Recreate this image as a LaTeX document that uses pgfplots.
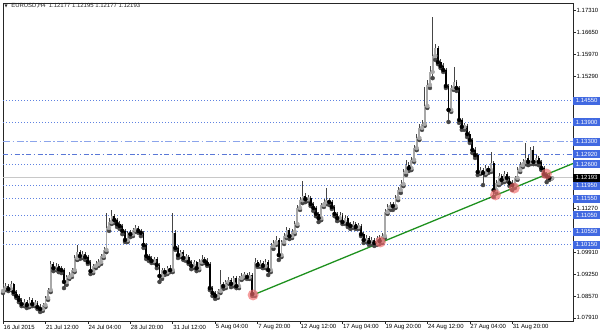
\documentclass[border=0pt]{standalone}
\usepackage{pgfplots}
\pgfplotsset{compat=1.18}
\usepackage{pgfplotstable}
\usepackage{fontspec}
\setmainfont{Liberation Sans}
\newfontfamily\dejavu{DejaVu Sans}
\newcommand\tickfont{\fontsize{6}{7}\selectfont}
\definecolor{mtblue}{RGB}{65,105,225}
\definecolor{lvl}{RGB}{95,130,225}
\definecolor{lvlA}{RGB}{140,165,235}
\definecolor{lvlB}{RGB}{90,120,215}
\definecolor{curline}{RGB}{200,200,200}
\definecolor{trend}{RGB}{30,145,30}
\definecolor{dotc}{RGB}{240,105,105}
\definecolor{bullc}{RGB}{168,168,168}
\definecolor{wick}{RGB}{70,70,70}
\pgfplotstableread{
k o h l c u
0 1.0873 1.0895 1.0867 1.0882 1
1 1.0882 1.0898 1.0876 1.0888 1
2 1.0888 1.0895 1.0873 1.0879 0
3 1.0879 1.0904 1.0876 1.0895 1
4 1.0895 1.0898 1.0864 1.0870 0
5 1.0870 1.0876 1.0852 1.0858 0
6 1.0858 1.0864 1.0839 1.0846 0
7 1.0846 1.0852 1.0827 1.0833 0
8 1.0833 1.0849 1.0827 1.0839 1
9 1.0839 1.0846 1.0821 1.0830 0
10 1.0830 1.0855 1.0824 1.0846 1
11 1.0846 1.0852 1.0827 1.0833 0
12 1.0833 1.0846 1.0827 1.0836 1
13 1.0836 1.0842 1.0818 1.0824 0
14 1.0824 1.0833 1.0809 1.0818 0
15 1.0818 1.0836 1.0812 1.0830 1
16 1.0830 1.0858 1.0824 1.0852 1
17 1.0852 1.0882 1.0846 1.0876 1
18 1.0876 1.0965 1.0870 1.0956 1
19 1.0956 1.0962 1.0934 1.0943 0
20 1.0943 1.0959 1.0937 1.0950 1
21 1.0950 1.0956 1.0931 1.0940 0
22 1.0940 1.0950 1.0928 1.0937 0
23 1.0937 1.0943 1.0882 1.0901 0
24 1.0901 1.0922 1.0892 1.0916 1
25 1.0916 1.0931 1.0910 1.0922 1
26 1.0922 1.0943 1.0916 1.0937 1
27 1.0937 1.0983 1.0931 1.0974 1
28 1.0974 1.1014 1.0968 1.0992 1
29 1.0992 1.0999 1.0971 1.0980 0
30 1.0980 1.0995 1.0974 1.0986 1
31 1.0986 1.0992 1.0968 1.0977 0
32 1.0977 1.0983 1.0956 1.0962 0
33 1.0962 1.0968 1.0925 1.0934 0
34 1.0934 1.0956 1.0928 1.0950 1
35 1.0950 1.0965 1.0943 1.0956 1
36 1.0956 1.0971 1.0950 1.0962 1
37 1.0962 1.0986 1.0956 1.0980 1
38 1.0980 1.1008 1.0974 1.0999 1
39 1.0999 1.1112 1.0992 1.1066 1
40 1.1066 1.1096 1.1057 1.1084 1
41 1.1084 1.1121 1.1078 1.1102 1
42 1.1102 1.1109 1.1081 1.1090 0
43 1.1090 1.1096 1.1069 1.1078 0
44 1.1078 1.1087 1.1063 1.1072 0
45 1.1072 1.1078 1.1047 1.1057 0
46 1.1057 1.1063 1.1023 1.1029 0
47 1.1029 1.1057 1.1023 1.1051 1
48 1.1051 1.1060 1.1038 1.1047 0
49 1.1047 1.1066 1.1041 1.1060 1
50 1.1060 1.1075 1.1054 1.1066 1
51 1.1066 1.1072 1.1051 1.1057 0
52 1.1057 1.1063 1.1041 1.1051 0
53 1.1051 1.1057 1.1005 1.1014 0
54 1.1014 1.1020 1.0971 1.0980 0
55 1.0980 1.0986 1.0965 1.0974 0
56 1.0974 1.0980 1.0959 1.0965 0
57 1.0965 1.0977 1.0959 1.0971 1
58 1.0971 1.0977 1.0943 1.0953 0
59 1.0953 1.0959 1.0901 1.0919 0
60 1.0919 1.0943 1.0910 1.0937 1
61 1.0937 1.0943 1.0922 1.0931 0
62 1.0931 1.0950 1.0925 1.0943 1
63 1.0943 1.0953 1.0931 1.0937 0
64 1.0937 1.1112 1.0931 1.1051 1
65 1.1051 1.1060 1.0999 1.1005 0
66 1.1005 1.1014 1.0974 1.0983 0
67 1.0983 1.0999 1.0977 1.0992 1
68 1.0992 1.0999 1.0968 1.0974 0
69 1.0974 1.0986 1.0965 1.0977 1
70 1.0977 1.0983 1.0956 1.0962 0
71 1.0962 1.0968 1.0940 1.0950 0
72 1.0950 1.0968 1.0943 1.0962 1
73 1.0962 1.0965 1.0934 1.0943 0
74 1.0943 1.0971 1.0937 1.0962 1
75 1.0962 1.0983 1.0956 1.0971 1
76 1.0971 1.0977 1.0959 1.0965 0
77 1.0965 1.0974 1.0950 1.0956 0
78 1.0956 1.0962 1.0876 1.0882 0
79 1.0882 1.0888 1.0858 1.0867 0
80 1.0867 1.0873 1.0849 1.0858 0
81 1.0858 1.0879 1.0852 1.0873 1
82 1.0873 1.0937 1.0867 1.0895 1
83 1.0895 1.0901 1.0879 1.0888 0
84 1.0888 1.0907 1.0882 1.0901 1
85 1.0901 1.0916 1.0895 1.0907 1
86 1.0907 1.0913 1.0885 1.0895 0
87 1.0895 1.0919 1.0888 1.0913 1
88 1.0913 1.0919 1.0882 1.0888 0
89 1.0888 1.0919 1.0882 1.0913 1
90 1.0913 1.0928 1.0907 1.0919 1
91 1.0919 1.0931 1.0913 1.0922 1
92 1.0922 1.0928 1.0910 1.0916 0
93 1.0916 1.0931 1.0910 1.0922 1
94 1.0922 1.0928 1.0858 1.0864 0
95 1.0864 1.0974 1.0858 1.0962 1
96 1.0962 1.0968 1.0947 1.0953 0
97 1.0953 1.0968 1.0947 1.0959 1
98 1.0959 1.0965 1.0943 1.0950 0
99 1.0950 1.0971 1.0943 1.0962 1
100 1.0962 1.0968 1.0922 1.0937 0
101 1.0937 1.1020 1.0931 1.1011 1
102 1.1011 1.1029 1.1002 1.1020 1
103 1.1020 1.1041 1.1014 1.1029 1
104 1.1029 1.1035 1.0968 1.0983 0
105 1.0983 1.1029 1.0977 1.1023 1
106 1.1023 1.1051 1.1017 1.1041 1
107 1.1041 1.1069 1.1035 1.1060 1
108 1.1060 1.1066 1.1032 1.1041 0
109 1.1041 1.1063 1.1035 1.1054 1
110 1.1054 1.1087 1.1047 1.1078 1
111 1.1078 1.1136 1.1072 1.1127 1
112 1.1127 1.1161 1.1121 1.1151 1
113 1.1151 1.1209 1.1142 1.1164 1
114 1.1164 1.1173 1.1145 1.1154 0
115 1.1154 1.1167 1.1148 1.1158 1
116 1.1158 1.1164 1.1133 1.1139 0
117 1.1139 1.1145 1.1118 1.1127 0
118 1.1127 1.1133 1.1102 1.1109 0
119 1.1109 1.1115 1.1084 1.1096 0
120 1.1096 1.1142 1.1090 1.1136 1
121 1.1136 1.1154 1.1130 1.1145 1
122 1.1145 1.1188 1.1139 1.1151 1
123 1.1151 1.1158 1.1136 1.1145 0
124 1.1145 1.1151 1.1124 1.1130 0
125 1.1130 1.1136 1.1102 1.1109 0
126 1.1109 1.1115 1.1087 1.1096 0
127 1.1096 1.1115 1.1090 1.1106 1
128 1.1106 1.1112 1.1078 1.1084 0
129 1.1084 1.1106 1.1078 1.1096 1
130 1.1096 1.1102 1.1069 1.1078 0
131 1.1078 1.1084 1.1063 1.1072 0
132 1.1072 1.1087 1.1066 1.1078 1
133 1.1078 1.1084 1.1063 1.1069 0
134 1.1069 1.1081 1.1063 1.1072 1
135 1.1072 1.1078 1.1041 1.1047 0
136 1.1047 1.1054 1.1020 1.1029 0
137 1.1029 1.1044 1.1023 1.1035 1
138 1.1035 1.1041 1.1014 1.1023 0
139 1.1023 1.1038 1.1017 1.1029 1
140 1.1029 1.1035 1.1011 1.1020 0
141 1.1020 1.1041 1.1014 1.1035 1
142 1.1035 1.1044 1.1017 1.1026 0
143 1.1026 1.1051 1.1020 1.1041 1
144 1.1041 1.1124 1.1035 1.1115 1
145 1.1115 1.1139 1.1109 1.1130 1
146 1.1130 1.1145 1.1121 1.1136 1
147 1.1136 1.1145 1.1121 1.1133 0
148 1.1133 1.1167 1.1127 1.1158 1
149 1.1158 1.1191 1.1151 1.1182 1
150 1.1182 1.1213 1.1173 1.1200 1
151 1.1200 1.1246 1.1194 1.1237 1
152 1.1237 1.1274 1.1228 1.1258 1
153 1.1258 1.1268 1.1240 1.1249 0
154 1.1249 1.1283 1.1243 1.1274 1
155 1.1274 1.1320 1.1268 1.1310 1
156 1.1310 1.1353 1.1304 1.1341 1
157 1.1341 1.1384 1.1335 1.1372 1
158 1.1372 1.1396 1.1366 1.1384 1
159 1.1384 1.1497 1.1378 1.1439 1
160 1.1439 1.1518 1.1433 1.1503 1
161 1.1503 1.1561 1.1494 1.1543 1
162 1.1543 1.1711 1.1524 1.1592 1
163 1.1592 1.1628 1.1580 1.1616 1
164 1.1616 1.1622 1.1567 1.1573 0
165 1.1573 1.1583 1.1555 1.1561 0
166 1.1561 1.1570 1.1543 1.1549 0
167 1.1549 1.1555 1.1494 1.1500 0
168 1.1500 1.1506 1.1390 1.1427 0
169 1.1427 1.1503 1.1421 1.1494 1
170 1.1494 1.1558 1.1488 1.1512 1
171 1.1512 1.1518 1.1485 1.1494 0
172 1.1494 1.1500 1.1387 1.1396 0
173 1.1396 1.1402 1.1366 1.1375 0
174 1.1375 1.1387 1.1366 1.1378 1
175 1.1378 1.1384 1.1344 1.1353 0
176 1.1353 1.1362 1.1326 1.1335 0
177 1.1335 1.1341 1.1295 1.1304 0
178 1.1304 1.1313 1.1280 1.1289 0
179 1.1289 1.1295 1.1228 1.1237 0
180 1.1237 1.1252 1.1231 1.1243 1
181 1.1243 1.1249 1.1197 1.1234 0
182 1.1234 1.1258 1.1228 1.1249 1
183 1.1249 1.1255 1.1234 1.1243 0
184 1.1243 1.1298 1.1237 1.1265 1
185 1.1265 1.1271 1.1161 1.1182 0
186 1.1182 1.1213 1.1173 1.1203 1
187 1.1203 1.1234 1.1197 1.1225 1
188 1.1225 1.1231 1.1203 1.1213 0
189 1.1213 1.1240 1.1206 1.1231 1
190 1.1231 1.1237 1.1209 1.1219 0
191 1.1219 1.1225 1.1194 1.1203 0
192 1.1203 1.1213 1.1182 1.1197 0
193 1.1197 1.1225 1.1188 1.1219 1
194 1.1219 1.1252 1.1213 1.1243 1
195 1.1243 1.1268 1.1237 1.1258 1
196 1.1258 1.1277 1.1252 1.1268 1
197 1.1268 1.1326 1.1261 1.1280 1
198 1.1280 1.1289 1.1258 1.1268 0
199 1.1268 1.1313 1.1261 1.1304 1
200 1.1304 1.1317 1.1261 1.1268 0
201 1.1268 1.1289 1.1261 1.1280 1
202 1.1280 1.1286 1.1258 1.1268 0
203 1.1268 1.1274 1.1243 1.1249 0
204 1.1249 1.1255 1.1225 1.1231 0
205 1.1231 1.1237 1.1206 1.1225 0
206 1.1225 1.1231 1.1213 1.1219 0
207 1.12177 1.12195 1.12177 1.12193 1
}\candles
\tikzset{
  lvlbox/.style={anchor=west, text=white, font=\tickfont, minimum width=27bp, minimum height=8bp, inner xsep=2bp, inner ysep=0pt},
}
\begin{document}
\begin{tikzpicture}
\useasboundingbox (-3bp,-12bp) rectangle (597bp,321bp);
\begin{axis}[
  at={(0,0)}, anchor=south west, scale only axis,
  width=570bp, height=318bp,
  xmin=0, xmax=214.93, ymin=1.07814, ymax=1.17538,
  axis line style={black!85, line width=0.6bp},
  tick align=outside, major tick length=2.5bp,
  xtick pos=bottom, ytick pos=right,
  xtick={0,16,32,48,64,80,96,112,128,144,160,176,192},
  xticklabels={16 Jul 2015, 21 Jul 12:00, 24 Jul 04:00, 28 Jul 20:00, 31 Jul 12:00, 5 Aug 04:00, 7 Aug 20:00, 12 Aug 12:00, 17 Aug 04:00, 19 Aug 20:00, 24 Aug 12:00, 27 Aug 04:00, 31 Aug 20:00},
  xticklabel style={anchor=north west, inner xsep=0.5bp, inner ysep=1bp, font=\tickfont},
  ytick={1.17310,1.16650,1.15970,1.15290,1.11270,1.09910,1.09250,1.08570,1.07910},
  yticklabels={1.17310,1.16650,1.15970,1.15290,1.11270,1.09910,1.09250,1.08570,1.07910},
  yticklabel pos=right,
  yticklabel style={anchor=west, inner xsep=1bp, font=\tickfont},
  tick style={black!85, line width=0.5bp},
  scaled y ticks=false,
  unbounded coords=discard,
]
% horizontal levels
\addplot[lvl, line width=0.75bp, dash pattern=on 1.4bp off 1.6bp] coordinates {(0,1.14550) (214.93,1.14550)};
\addplot[lvl, line width=0.75bp, dash pattern=on 1.4bp off 1.6bp] coordinates {(0,1.13900) (214.93,1.13900)};
\addplot[lvlA, line width=0.8bp, dash pattern=on 7bp off 2.5bp on 1.5bp off 2.5bp] coordinates {(0,1.13300) (214.93,1.13300)};
\addplot[lvlB, line width=0.8bp, dash pattern=on 5bp off 2.5bp on 1.5bp off 2.5bp] coordinates {(0,1.12920) (214.93,1.12920)};
\addplot[lvl, line width=0.75bp, dash pattern=on 1.4bp off 1.6bp] coordinates {(0,1.12600) (214.93,1.12600)};
\addplot[curline, line width=0.8bp] coordinates {(0,1.12193) (214.93,1.12193)};
\addplot[lvl, line width=0.75bp, dash pattern=on 1.4bp off 1.6bp] coordinates {(0,1.11950) (214.93,1.11950)};
\addplot[lvl, line width=0.75bp, dash pattern=on 1.4bp off 1.6bp] coordinates {(0,1.11550) (214.93,1.11550)};
\addplot[lvl, line width=0.75bp, dash pattern=on 1.4bp off 1.6bp] coordinates {(0,1.11050) (214.93,1.11050)};
\addplot[lvl, line width=0.75bp, dash pattern=on 1.4bp off 1.6bp] coordinates {(0,1.10550) (214.93,1.10550)};
\addplot[lvl, line width=0.75bp, dash pattern=on 1.4bp off 1.6bp] coordinates {(0,1.10150) (214.93,1.10150)};
% wicks
\addplot[only marks, mark=none, wick, error bars/.cd, y dir=plus, y explicit, error mark=none, error bar style={draw=wick, line width=0.55bp}]
  table[x=k, y=l, y error plus expr=\thisrow{h}-\thisrow{l}] {\candles};
% bull bodies
\addplot[only marks, mark=none, bullc, error bars/.cd, y dir=plus, y explicit, error mark=none, error bar style={draw=bullc, line width=1.85bp, line cap=butt}]
  table[x=k, y expr={\thisrow{u}>0.5 ? \thisrow{o} : nan}, y error plus expr=\thisrow{c}-\thisrow{o}] {\candles};
% bear bodies
\addplot[only marks, mark=none, black, error bars/.cd, y dir=plus, y explicit, error mark=none, error bar style={draw=black, line width=1.85bp, line cap=butt}]
  table[x=k, y expr={\thisrow{u}<0.5 ? \thisrow{c} : nan}, y error plus expr=\thisrow{o}-\thisrow{c}] {\candles};
% trendline
\addplot[trend, line width=1.3bp] coordinates {(94.3,1.0861) (214.93,1.1263)};
% touch points
\addplot[dotc, only marks, mark=*, mark size=5.5bp, mark options={draw opacity=0, fill=dotc, fill opacity=0.65}] coordinates {(94.3,1.0861) (142.3,1.1023) (185.7,1.1167) (192.8,1.1188) (204.9,1.1231)};
\coordinate (L1) at (axis cs:214.93,1.14550);
\coordinate (L2) at (axis cs:214.93,1.13900);
\coordinate (L3) at (axis cs:214.93,1.13300);
\coordinate (L4) at (axis cs:214.93,1.12920);
\coordinate (L5) at (axis cs:214.93,1.12600);
\coordinate (L6) at (axis cs:214.93,1.11950);
\coordinate (L7) at (axis cs:214.93,1.11550);
\coordinate (L8) at (axis cs:214.93,1.11050);
\coordinate (L9) at (axis cs:214.93,1.10550);
\coordinate (L10) at (axis cs:214.93,1.10150);
\coordinate (LC) at (axis cs:214.93,1.12193);
\end{axis}
\node[lvlbox, fill=mtblue] at (L1) {1.14550};
\node[lvlbox, fill=mtblue] at (L2) {1.13900};
\node[lvlbox, fill=mtblue] at (L3) {1.13300};
\node[lvlbox, fill=mtblue] at (L4) {1.12920};
\node[lvlbox, fill=mtblue] at (L5) {1.12600};
\node[lvlbox, fill=mtblue] at (L6) {1.11950};
\node[lvlbox, fill=mtblue] at (L7) {1.11550};
\node[lvlbox, fill=mtblue] at (L8) {1.11050};
\node[lvlbox, fill=mtblue] at (L9) {1.10550};
\node[lvlbox, fill=mtblue] at (L10) {1.10150};
\node[lvlbox, fill=black] at (LC) {1.12193};
\node[anchor=west, inner sep=0pt, font=\tickfont, text=black!85] at (1.5bp,315bp) {{\dejavu\fontsize{4}{4}\selectfont ▼}\hspace{3.5bp}EURUSD,H4\hspace{3bp}1.12177 1.12195 1.12177 1.12193};
\end{tikzpicture}
\end{document}
